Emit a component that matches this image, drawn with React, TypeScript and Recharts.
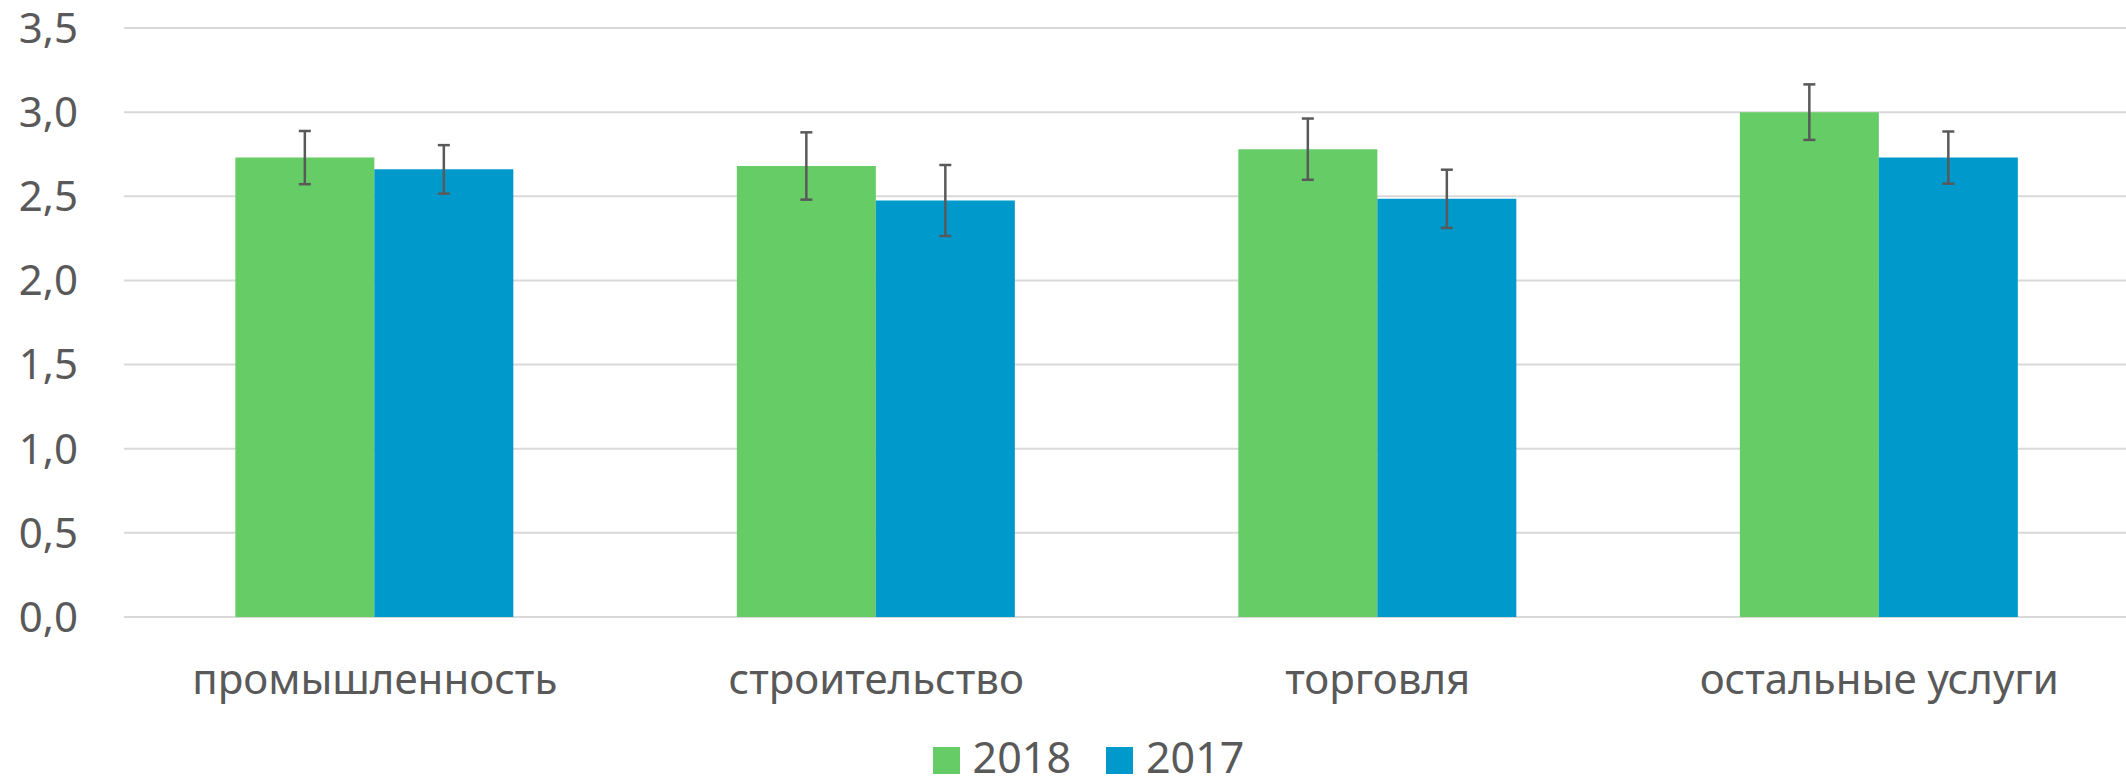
import React from 'react';
import { BarChart, Bar, XAxis, YAxis, CartesianGrid, Legend, ErrorBar } from 'recharts';

const categories = ['промышленность', 'строительство', 'торговля', 'остальные услуги'];
const seriesNames = ['2018', '2017'];
const values2018 = [2.73, 2.68, 2.78, 3.0];
const values2017 = [2.66, 2.475, 2.485, 2.73];
const errors2018 = [0.158, 0.2, 0.182, 0.165];
const errors2017 = [0.144, 0.211, 0.173, 0.155];
const yTicks = [0, 0.5, 1, 1.5, 2, 2.5, 3, 3.5];

const GREEN = '#66CC66';
const BLUE = '#0099CC';
const TEXT = '#595959';
const FONT = '"Noto Sans", sans-serif';

const data = categories.map((name, i) => ({
  name,
  v2018: values2018[i],
  v2017: values2017[i],
  e2018: errors2018[i],
  e2017: errors2017[i],
}));

function LegendContent({ payload }: any) {
  const items = [...(payload || [])].sort(
    (a: any, b: any) => seriesNames.indexOf(String(a.value)) - seriesNames.indexOf(String(b.value))
  );
  return (
    <div style={{ display: 'flex', justifyContent: 'center', alignItems: 'flex-start', height: 62, paddingLeft: 82, paddingTop: 22, boxSizing: 'border-box' }}>
      {items.map((item: any) => (
        <div key={item.value} style={{ display: 'flex', alignItems: 'flex-start', marginRight: 35 }}>
          <span style={{ display: 'inline-block', width: 27, height: 27, background: item.color, marginRight: 13, marginTop: 8 }} />
          <span style={{ fontFamily: FONT, fontSize: 43, color: TEXT, lineHeight: '36px' }}>{item.value}</span>
        </div>
      ))}
    </div>
  );
}

export default function App() {
  return (
    <div style={{ position: 'absolute', left: 0, top: 0, width: 2126, height: 779, overflow: 'hidden', background: '#fff' }}>
      <BarChart width={2130} height={779} data={data} margin={{ top: 28, right: 0, bottom: 0, left: 0 }} barCategoryGap="22.2%" barGap={0}>
        <CartesianGrid vertical={false} stroke="#D9D9D9" strokeWidth={2} />
        <XAxis
          dataKey="name"
          axisLine={false}
          tickLine={false}
          tickSize={0}
          tickMargin={47}
          height={100}
          interval={0}
          tick={{ fill: TEXT, fontSize: 42, fontFamily: FONT }}
        />
        <YAxis
          domain={[0, 3.5]}
          ticks={yTicks}
          width={124}
          axisLine={false}
          tickLine={false}
          tickSize={0}
          tickMargin={46}
          tickFormatter={(v: number) => v.toFixed(1).replace('.', ',')}
          tick={{ fill: TEXT, fontSize: 42, fontFamily: FONT }}
        />
        <Legend verticalAlign="bottom" height={62} content={<LegendContent />} />
        <Bar dataKey="v2018" name="2018" fill={GREEN} isAnimationActive={false}>
          <ErrorBar dataKey="e2018" width={6} strokeWidth={2.5} stroke={TEXT} direction="y" />
        </Bar>
        <Bar dataKey="v2017" name="2017" fill={BLUE} isAnimationActive={false}>
          <ErrorBar dataKey="e2017" width={6} strokeWidth={2.5} stroke={TEXT} direction="y" />
        </Bar>
      </BarChart>
    </div>
  );
}
